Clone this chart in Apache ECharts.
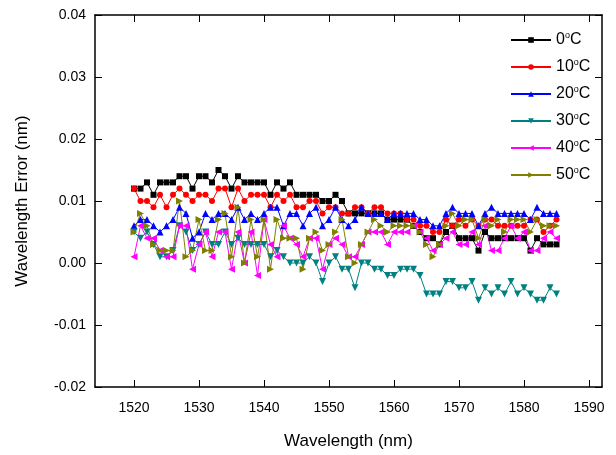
<!DOCTYPE html>
<html>
<head>
<meta charset="utf-8">
<script src="https://cdn.jsdelivr.net/npm/echarts@6/dist/echarts.min.js"></script>
<style>
  html, body { margin: 0; padding: 0; background: #fff; }
  #main { width: 616px; height: 455px; }
</style>
</head>
<body>
<div id="main"></div>
<script>
// wavelength (nm)
const wavelength = [
  1520, 1521, 1522, 1523, 1524, 1525, 1526, 1527, 1528, 1529,
  1530, 1531, 1532, 1533, 1534, 1535, 1536, 1537, 1538, 1539,
  1540, 1541, 1542, 1543, 1544, 1545, 1546, 1547, 1548, 1549,
  1550, 1551, 1552, 1553, 1554, 1555, 1556, 1557, 1558, 1559,
  1560, 1561, 1562, 1563, 1564, 1565, 1566, 1567, 1568, 1569,
  1570, 1571, 1572, 1573, 1574, 1575, 1576, 1577, 1578, 1579,
  1580, 1581, 1582, 1583, 1584, 1585
]

// errors in units of 0.001 nm
const err0 = [
  12, 12, 13, 11, 13, 13, 13, 14, 14, 12,
  14, 14, 13, 15, 14, 12, 14, 13, 13, 13,
  13, 11, 13, 12, 13, 11, 11, 11, 11, 10,
  10, 11, 10, 8, 8, 8, 8, 8, 8, 7,
  7, 7, 7, 6, 5, 4, 4, 3, 5, 6,
  4, 4, 4, 2, 5, 4, 4, 4, 4, 4,
  4, 2, 4, 3, 3, 3
]
const err10 = [
  12, 10, 10, 9, 11, 9, 11, 12, 11, 10,
  11, 11, 10, 12, 12, 9, 12, 10, 11, 11,
  11, 9, 11, 10, 11, 9, 9, 10, 10, 8,
  9, 9, 8, 8, 9, 9, 8, 9, 9, 8,
  8, 8, 7, 7, 6, 6, 5, 5, 7, 6,
  7, 6, 7, 6, 7, 7, 6, 6, 6, 6,
  6, 7, 7, 5, 6, 7
]
const err20 = [
  6, 7, 7, 6, 5, 6, 7, 9, 8, 4,
  5, 8, 7, 8, 8, 7, 9, 7, 8, 7,
  8, 9, 9, 6, 8, 8, 6, 8, 9, 6,
  7, 9, 7, 6, 7, 9, 8, 8, 8, 7,
  8, 8, 8, 8, 7, 7, 6, 6, 8, 9,
  8, 8, 8, 6, 8, 9, 8, 8, 8, 8,
  8, 7, 9, 8, 8, 8
]
const err30 = [
  5, 4, 5, 3, 1, 1, 2, 6, 5, 2,
  3, 5, 3, 3, 5, 3, 4, 3, 3, 3,
  3, 1, 2, 1, 0, 0, 0, 1, 0, -3,
  0, 1, -1, -1, -4, 0, 0, -1, -1, -2,
  -2, -1, -1, -1, -2, -5, -5, -5, -3, -3,
  -4, -4, -3, -6, -4, -5, -4, -5, -3, -5,
  -4, -5, -6, -6, -4, -5
]
const err40 = [
  1, 6, 4, 4, 2, 1, 1, 6, 6, -1,
  3, 5, 1, 5, 5, -1, 5, 0, 5, -2,
  7, 3, 1, 6, 4, 3, 1, 4, 4, -1,
  3, 4, 3, 1, 1, 3, 5, 5, 5, 3,
  5, 5, 5, 6, 5, 4, 2, 3, 4, 5,
  3, 3, 5, 3, 6, 2, 2, 4, 6, 4,
  5, 2, 2, 4, 5, 4
]
const err50 = [
  5, 8, 6, 3, 2, 2, 2, 10, 1, 2,
  7, 2, 2, 7, 8, 1, 9, 0, 7, 1,
  7, -1, 7, 4, 4, 4, -1, 4, 5, 2,
  3, 5, 7, 1, 0, 3, 5, 7, 6, 5,
  6, 6, 6, 6, 5, 3, 1, 3, 6, 8,
  6, 7, 7, 4, 7, 6, 7, 5, 7, 7,
  7, 5, 7, 6, 6, 6
]

const seriesNames = ['0', '10', '20', '30', '40', '50']
const xTicks = [1520, 1530, 1540, 1550, 1560, 1570, 1580, 1590]

const font = 'Liberation Sans, Arial, sans-serif'

const pairs = (vals) => wavelength.map((w, i) => [w, vals[i] / 1000])

const makeSeries = (name, vals, color, symbol, rotate) => ({
  name: name,
  type: 'line',
  data: pairs(vals),
  symbol: symbol,
  symbolSize: symbol === 'triangle' ? 7 : 6,
  symbolRotate: rotate,
  itemStyle: { color: color },
  lineStyle: { color: color, width: 1 },
  animation: false
})

const chart = echarts.init(document.getElementById('main'))

const frameLine = { show: true, onZero: false, lineStyle: { color: '#000', width: 1.5 } }
const tickStyle = { color: '#000', width: 1 }

chart.setOption({
  backgroundColor: '#fff',
  grid: { left: 95, top: 15, right: 14, bottom: 65 },
  legend: {
    left: 505,
    top: 26,
    orient: 'vertical',
    itemWidth: 40,
    itemHeight: 7,
    itemGap: 10,
    data: seriesNames,
    formatter: (name) => name + '{s|o}C',
    textStyle: {
      fontFamily: font,
      fontSize: 16,
      color: '#000',
      rich: {
        s: { fontSize: 9, fontFamily: font, color: '#000', padding: [0, 0, 9, 0] }
      }
    }
  },
  xAxis: [
    {
      type: 'value',
      min: 1514,
      max: 1592,
      name: 'Wavelength (nm)',
      nameLocation: 'middle',
      nameGap: 46,
      nameTextStyle: { fontFamily: font, fontSize: 17, color: '#000' },
      axisLine: frameLine,
      splitLine: { show: false },
      axisTick: { show: true, inside: true, length: 7, customValues: xTicks, lineStyle: tickStyle },
      axisLabel: {
        customValues: xTicks, margin: 14, fontFamily: font, fontSize: 14, color: '#000',
        formatter: (v) => String(v)
      }
    },
    {
      type: 'value',
      position: 'top',
      min: 1514,
      max: 1592,
      axisLine: frameLine,
      splitLine: { show: false },
      axisTick: { show: true, inside: true, length: 7, customValues: xTicks, lineStyle: tickStyle },
      axisLabel: { show: false }
    }
  ],
  yAxis: [
    {
      type: 'value',
      min: -0.02,
      max: 0.04,
      interval: 0.01,
      name: 'Wavelength Error (nm)',
      nameLocation: 'middle',
      nameGap: 64,
      nameTextStyle: { fontFamily: font, fontSize: 17, color: '#000' },
      axisLine: frameLine,
      splitLine: { show: false },
      axisTick: { show: true, inside: true, length: 7, lineStyle: tickStyle },
      axisLabel: { margin: 9, fontFamily: font, fontSize: 14, color: '#000', formatter: (v) => v.toFixed(2) }
    },
    {
      type: 'value',
      position: 'right',
      min: -0.02,
      max: 0.04,
      interval: 0.01,
      axisLine: frameLine,
      splitLine: { show: false },
      axisTick: { show: true, inside: true, length: 7, lineStyle: tickStyle },
      axisLabel: { show: false }
    }
  ],
  series: [
    makeSeries('0', err0, '#000000', 'rect', 0),
    makeSeries('10', err10, '#ff0000', 'circle', 0),
    makeSeries('20', err20, '#0000ff', 'triangle', 0),
    makeSeries('30', err30, '#008080', 'triangle', 180),
    makeSeries('40', err40, '#ff00ff', 'triangle', 90),
    makeSeries('50', err50, '#808000', 'triangle', -90)
  ]
})
</script>
</body>
</html>
